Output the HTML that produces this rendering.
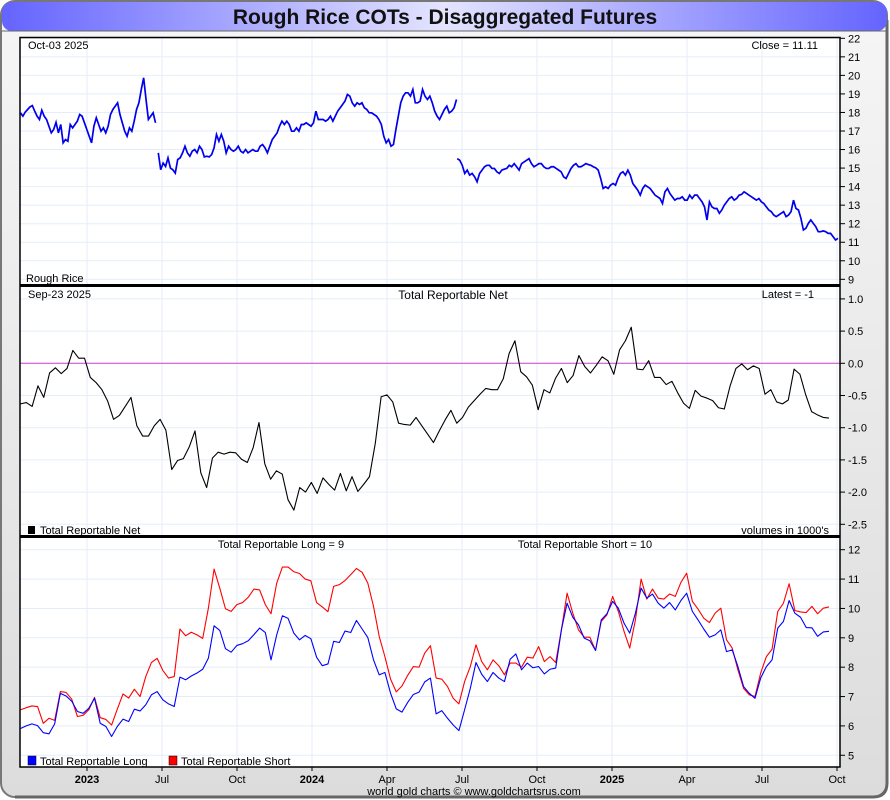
<!DOCTYPE html>
<html><head><meta charset="utf-8"><style>
html,body{margin:0;padding:0;width:890px;height:800px;overflow:hidden;background:#fff}
svg{display:block;font-family:"Liberation Sans",Arial,sans-serif}
</style></head><body>
<svg id="chart" width="890" height="800" viewBox="0 0 890 800">
<defs>
<linearGradient id="bg" x1="0" y1="0" x2="0" y2="1"><stop offset="0" stop-color="#f6f6f6"/><stop offset="1" stop-color="#dcdcdc"/></linearGradient>
<linearGradient id="tb" x1="0" y1="0" x2="1" y2="0"><stop offset="0" stop-color="#6464ff"/><stop offset="0.5" stop-color="#e4e4ff"/><stop offset="1" stop-color="#6464ff"/></linearGradient>
</defs>
<rect x="1" y="1" width="886" height="796" rx="14" fill="url(#bg)" stroke="#777" stroke-width="2"/>
<path d="M887 20 L887 783 Q887 797 873 797 L15 797" fill="none" stroke="#666" stroke-width="3"/>
<rect x="2" y="2" width="885" height="29" rx="10" fill="url(#tb)"/>
<line x1="2" y1="31" x2="887" y2="31" stroke="#666" stroke-width="1"/>
<text x="445" y="24" text-anchor="middle" font-size="21" font-weight="bold" fill="#111">Rough Rice COTs - Disaggregated Futures</text>
<rect x="20" y="37" width="820" height="730" fill="#fff"/>
<g id="grid"></g>
<g id="series"></g>
<g id="axes"></g>
<rect x="20" y="37.5" width="820" height="729.5" fill="none" stroke="#000" stroke-width="1.5"/>
<line x1="20" y1="285.5" x2="840" y2="285.5" stroke="#000" stroke-width="3"/>
<line x1="20" y1="536.5" x2="840" y2="536.5" stroke="#000" stroke-width="3"/>
<g font-size="11" fill="#000">
<text x="28" y="49">Oct-03  2025</text>
<text x="818" y="49" text-anchor="end">Close = 11.11</text>
<text x="26" y="282">Rough Rice</text>
<text x="28" y="298">Sep-23  2025</text>
<text x="453" y="299" text-anchor="middle" font-size="12">Total Reportable Net</text>
<text x="814" y="298" text-anchor="end">Latest = -1</text>
<rect x="28" y="526" width="7" height="8" fill="#000"/>
<text x="40" y="534">Total Reportable Net</text>
<text x="829" y="534" text-anchor="end">volumes in 1000's</text>
<text x="281" y="548" text-anchor="middle">Total Reportable Long = 9</text>
<text x="585" y="548" text-anchor="middle">Total Reportable Short = 10</text>
<rect x="28" y="756" width="8" height="9" fill="#00f" stroke="#000" stroke-width="0.5"/>
<text x="40" y="765">Total Reportable Long</text>
<rect x="169" y="756" width="8" height="9" fill="#f00" stroke="#000" stroke-width="0.5"/>
<text x="181" y="765">Total Reportable Short</text>
<text x="474" y="795" text-anchor="middle">world gold charts © www.goldchartsrus.com</text>
</g>
</svg>
<script>
// ---- x axis (months since Jan 2023) ----
const xTickMonths = [3,6,9,12,15,18,21,24,27,30,33];
const xTickLabels = ["2023","Jul","Oct","2024","Apr","Jul","Oct","2025","Apr","Jul","Oct"];
const xTickBold = [true,false,false,true,false,false,false,true,false,false,false];
// ---- price panel (null = contract roll gap) ----
const priceTicks = [9,10,11,12,13,14,15,16,17,18,19,20,21,22];
const priceSeries = [
17.98,17.8,18.02,18.16,18.3,18.37,18.07,17.8,17.62,18.12,17.8,17.62,17.26,16.9,17.08,17.47,16.9,17.35,16.36,16.54,16.45,17.35,17.17,17.35,17.53,17.89,17.8,17.44,17.08,16.72,16.36,17.26,17.71,17.35,16.99,17.17,16.9,17.26,17.89,18.16,18.34,18.52,17.89,17.44,16.99,16.72,17.17,16.99,17.53,18.16,18.52,19.24,19.87,18.7,17.62,17.8,17.98,17.44,
null,
15.82,14.91,15.27,15.09,15.55,15.0,14.91,14.73,15.46,15.55,15.82,16.18,15.82,15.64,15.91,16.0,15.82,16.18,16.0,15.6,15.64,15.6,15.73,16.09,16.81,16.45,16.81,16.45,15.82,16.18,16.0,15.91,16.0,16.18,15.91,15.82,16.0,15.82,15.91,16.0,15.91,15.91,16.18,16.27,16.09,15.82,16.18,16.54,16.72,16.9,17.26,17.53,17.35,17.53,17.35,16.99,16.99,17.17,16.99,17.35,17.35,17.44,17.35,17.26,17.44,18.07,17.62,17.62,17.62,17.53,17.62,17.8,17.53,17.8,18.07,18.25,18.43,18.61,18.97,18.88,18.52,18.34,18.52,18.43,18.52,18.25,18.16,17.98,17.98,17.89,17.8,17.62,17.35,16.72,16.36,16.54,16.18,16.27,17.08,17.8,18.52,18.88,19.06,19.06,18.88,19.24,18.52,18.52,18.61,19.24,18.88,18.7,18.88,18.52,18.07,17.8,17.62,17.89,18.16,18.34,17.98,18.07,18.25,18.7,
null,
15.51,15.42,15.15,14.71,14.89,14.62,14.71,14.53,14.26,14.71,14.89,15.07,15.15,15.15,14.98,14.98,14.8,14.71,14.89,14.94,14.98,15.15,15.07,15.24,15.07,14.89,15.24,15.33,15.42,15.51,15.24,15.07,15.15,15.24,15.24,15.07,14.98,14.98,15.07,15.07,14.98,14.89,14.8,14.53,14.44,14.71,14.98,15.15,15.24,15.07,15.07,15.15,15.24,15.19,15.15,15.07,15.01,14.89,14.44,13.9,13.99,13.9,14.08,14.17,14.08,14.44,14.71,14.8,14.62,14.89,14.62,14.17,13.99,13.81,13.54,13.9,14.08,13.99,13.9,13.72,13.54,13.45,13.36,13.09,13.72,13.9,13.63,13.45,13.27,13.36,13.36,13.45,13.27,13.27,13.54,13.36,13.54,13.54,13.36,13.18,12.91,12.2,13.18,12.91,12.82,12.82,12.56,12.74,13.0,13.18,13.36,13.45,13.27,13.36,13.54,13.58,13.72,13.63,13.54,13.45,13.36,13.27,13.36,13.18,13.09,12.91,12.74,12.65,12.47,12.38,12.47,12.56,12.65,12.38,12.47,12.65,13.27,12.82,12.74,12.29,11.66,11.75,12.02,12.2,12.02,11.84,11.57,11.57,11.61,11.57,11.48,11.48,11.3,11.12,11.21];
// ---- net panel ----
const netTicks = [-2.5,-2.0,-1.5,-1.0,-0.5,0.0,0.5,1.0];
const netSeries = [-0.63,-0.61,-0.67,-0.35,-0.53,-0.15,-0.07,-0.16,-0.08,0.2,0.08,0.08,-0.22,-0.3,-0.41,-0.59,-0.87,-0.81,-0.67,-0.53,-0.97,-1.13,-1.13,-0.97,-0.87,-1.04,-1.65,-1.51,-1.48,-1.3,-1.05,-1.7,-1.93,-1.47,-1.38,-1.41,-1.38,-1.39,-1.49,-1.54,-1.31,-0.92,-1.56,-1.8,-1.67,-1.72,-2.12,-2.28,-1.93,-2.0,-1.85,-2.02,-1.78,-1.88,-1.97,-1.71,-1.98,-1.76,-1.99,-1.88,-1.76,-1.24,-0.52,-0.49,-0.6,-0.93,-0.95,-0.96,-0.84,-0.97,-1.1,-1.23,-1.05,-0.88,-0.73,-0.93,-0.84,-0.68,-0.58,-0.48,-0.39,-0.41,-0.41,-0.24,0.15,0.35,-0.13,-0.21,-0.34,-0.72,-0.41,-0.46,-0.23,-0.08,-0.3,-0.19,0.12,-0.05,-0.15,-0.03,0.1,0.04,-0.17,0.21,0.35,0.56,-0.09,-0.1,0.04,-0.22,-0.22,-0.33,-0.28,-0.46,-0.62,-0.7,-0.42,-0.51,-0.54,-0.58,-0.69,-0.71,-0.35,-0.08,-0.01,-0.1,-0.04,-0.08,-0.48,-0.41,-0.6,-0.63,-0.57,-0.09,-0.17,-0.49,-0.75,-0.8,-0.84,-0.85];
// ---- long/short panel ----
const lsTicks = [5,6,7,8,9,10,11,12];
const longSeries = [5.91,6.0,6.07,6.01,5.77,5.73,6.07,7.11,7.02,6.84,6.49,6.43,6.6,6.94,6.09,5.98,5.64,5.98,6.23,6.15,6.57,6.51,6.72,7.06,7.17,6.89,6.75,6.66,7.66,7.57,7.7,7.8,7.93,8.31,9.41,9.25,8.63,8.51,8.74,8.8,8.9,9.11,9.33,9.18,8.25,9.1,9.75,9.66,9.16,8.93,9.08,8.97,8.34,8.05,8.11,8.88,8.84,9.23,9.18,9.59,9.3,9.01,8.25,7.74,7.82,7.11,6.58,6.47,6.8,7.07,7.15,7.5,7.63,6.41,
6.52,6.26,6.03,5.84,6.55,7.28,8.16,7.76,7.51,7.82,7.63,7.51,8.27,8.45,7.91,8.14,7.98,8.02,7.77,7.93,7.97,9.27,10.18,9.7,9.44,8.99,8.9,8.57,9.61,9.82,10.24,10.01,9.5,9.16,9.84,10.69,10.35,10.49,10.18,10.01,10.2,9.95,10.27,10.52,9.9,9.61,9.3,9.02,9.1,9.27,8.53,8.59,8.02,7.34,7.11,6.94,7.63,8.02,8.25,9.33,9.56,10.27,9.84,9.7,9.35,9.34,9.05,9.2,9.22];
const shortSeries = [6.55,6.62,6.68,6.66,6.09,6.26,6.19,7.17,7.14,6.91,6.32,6.36,6.55,6.97,6.28,6.22,6.03,6.57,7.09,6.95,7.25,7.0,7.68,8.16,8.3,7.89,7.63,7.68,9.3,9.07,9.19,9.1,8.98,10.01,11.34,10.69,9.99,9.9,10.13,10.2,10.38,10.66,10.63,10.13,9.82,10.86,11.41,11.41,11.25,11.19,11.0,10.94,10.2,10.05,9.89,10.75,10.81,10.95,11.15,11.36,11.23,10.86,10.07,9.05,8.36,7.59,7.16,7.36,7.72,8.02,8.0,8.48,8.73,7.63,
7.59,7.34,6.94,6.75,7.51,8.02,8.76,8.19,7.91,8.25,8.05,7.74,8.14,8.14,8.0,8.34,8.31,8.7,8.19,8.36,8.16,9.27,10.52,9.84,9.27,9.02,9.02,8.57,9.56,9.78,10.41,9.9,9.22,8.65,9.61,11.0,10.32,10.66,10.35,10.32,10.49,10.41,10.89,11.2,10.24,9.98,9.67,9.52,9.84,10.01,8.93,8.65,7.91,7.28,7.06,7.0,7.8,8.36,8.61,9.9,10.18,10.84,9.93,9.88,9.86,10.07,9.82,10.01,10.05];

const NS = "http://www.w3.org/2000/svg";
const X0 = 20.5;
const priceSegmentSpans = [[20.5,155.5],[158.3,456.5],[457.3,838]]; // layout: pixel span of each contract segment
function xMonth(m){ return 12 + 25*m; }
function yPrice(v){ return 38.3 + (22 - v)*18.54; }
function yNet(v){ return 363.3 - v*64.4; }
function yLS(v){ return 549.7 + (12 - v)*29.37; }
function xIdx(i, n, x0, x1){ return x0 + i*((x1 - x0)/(n - 1)); }
function mk(tag, attrs, parent){ const e = document.createElementNS(NS, tag); for (const k in attrs) e.setAttribute(k, attrs[k]); parent.appendChild(e); return e; }

const grid = document.getElementById('grid');
const axes = document.getElementById('axes');
const series = document.getElementById('series');
const panels = [[priceTicks,yPrice,v=>String(v)],[netTicks,yNet,v=>v.toFixed(1)],[lsTicks,yLS,v=>String(v)]];

xTickMonths.forEach((m,i)=>{
  const x = xMonth(m);
  const gl = mk('line',{x1:x,x2:x,y1:38,y2:767,stroke:'#e4eef8','stroke-width':1},grid);
  
  
  const t = mk('text',{x:x,y:783,'text-anchor':'middle','font-size':11,'font-weight':xTickBold[i]?'bold':'normal'},axes);
  t.textContent = xTickLabels[i];
  
  
  const tk = mk('line',{x1:x,x2:x,y1:767,y2:771,stroke:'#000'},axes);
  
  
});
panels.forEach(p=>{
  p[0].forEach(v=>{
    const y = p[1](v);
    const gl = mk('line',{x1:20,x2:840,y1:y,y2:y,stroke:'#e4eef8','stroke-width':1},grid);
    
    
    const tk = mk('line',{x1:840,x2:845,y1:y,y2:y,stroke:'#000'},axes);
    
    
    const t = mk('text',{x:848,y:y+4,'font-size':11},axes);
    t.textContent = p[2](v);
    
    
  });
});
const zl = mk('line',{x1:20,x2:840,y1:yNet(0),y2:yNet(0),stroke:'#cc44cc','stroke-width':1},series);



// price: split by null into contract segments
let segs = [[]];
priceSeries.forEach(v=>{ if (v === null) segs.push([]); else segs[segs.length-1].push(v); });
let pd = '';
segs.forEach((s,k)=>{
  const span = priceSegmentSpans[Math.min(k, priceSegmentSpans.length-1)];
  s.forEach((v,i)=>{ pd += (i ? 'L' : 'M') + xIdx(i, s.length, span[0], span[1]).toFixed(2) + ' ' + yPrice(v).toFixed(2) + ' '; });
});
const pp = mk('path',{d:pd,fill:'none',stroke:'#0000ee','stroke-width':1.7,'stroke-linejoin':'miter'},series);



function drawLine(arr, yf, color, name, x1, w){
  let d = '';
  arr.forEach((v,i)=>{ d += (i ? 'L' : 'M') + xIdx(i, arr.length, X0, x1).toFixed(2) + ' ' + yf(v).toFixed(2) + ' '; });
  const p = mk('path',{d:d,fill:'none',stroke:color,'stroke-width':w,'stroke-linejoin':'round'},series);
  
  
}
drawLine(netSeries, yNet, '#000', 'net-line', 829, 1.1);
drawLine(shortSeries, yLS, '#f00', 'short-line', 829, 1.1);
drawLine(longSeries, yLS, '#00f', 'long-line', 829, 1.1);
</script>
</body></html>
